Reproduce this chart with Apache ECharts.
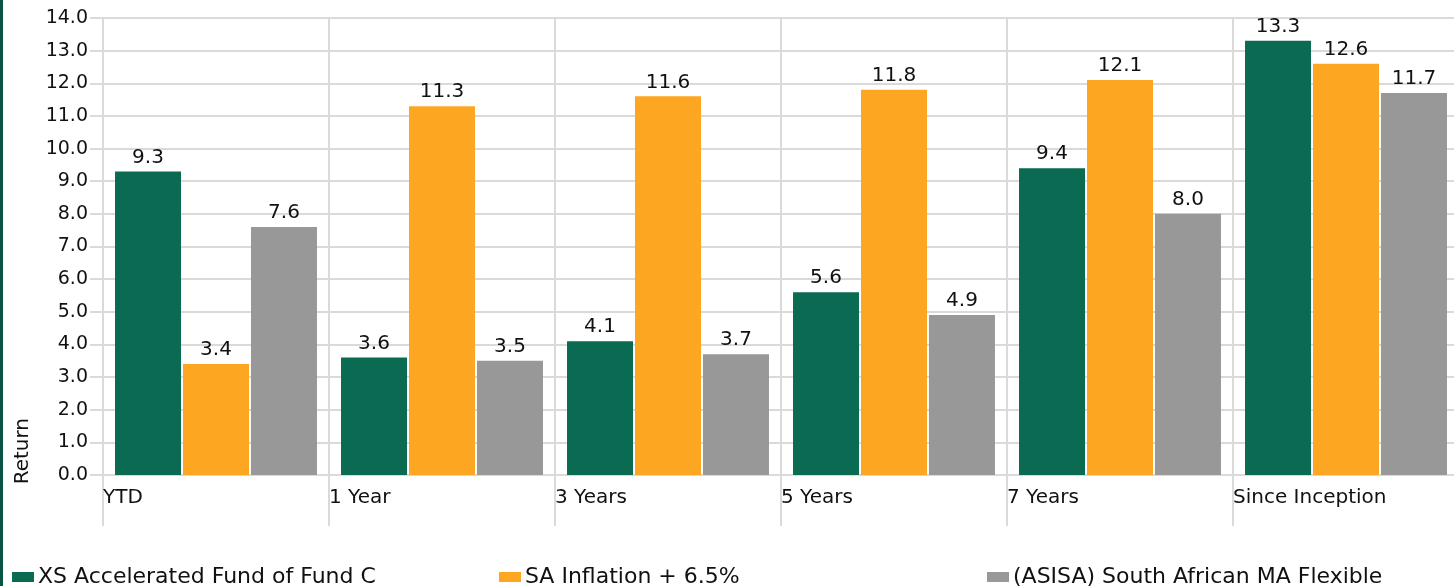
<!DOCTYPE html>
<html>
<head>
<meta charset="utf-8">
<script src="https://cdn.jsdelivr.net/npm/echarts@6/dist/echarts.min.js"></script>
<style>
  html, body { margin: 0; padding: 0; background: #fff; }
  #chart { width: 1454px; height: 586px; }
</style>
</head>
<body>
<div id="chart"></div>
<script>
// data
var categories = ['YTD', '1 Year', '3 Years', '5 Years', '7 Years', 'Since Inception'];
var fundName = 'XS Accelerated Fund of Fund C';
var inflationName = 'SA Inflation + 6.5%';
var peerName = '(ASISA) South African MA Flexible';
var fundValues = [9.3, 3.6, 4.1, 5.6, 9.4, 13.3];
var inflationValues = [3.4, 11.3, 11.6, 11.8, 12.1, 12.6];
var peerValues = [7.6, 3.5, 3.7, 4.9, 8.0, 11.7];
var yTicks = { min: 0, max: 14, interval: 1 };

var font = 'DejaVu Sans, Verdana, sans-serif';
var gridColor = '#dadada';

var chart = echarts.init(document.getElementById('chart'));

function bar(name, data, color) {
    return {
        name: name,
        type: 'bar',
        xAxisIndex: 0,
        data: data,
        barWidth: 66,
        barGap: '3%',
        itemStyle: { color: color },
        label: {
            show: true,
            position: 'top',
            distance: 4,
            color: '#111',
            fontFamily: font,
            fontSize: 20,
            formatter: function (p) { return p.value.toFixed(1); }
        }
    };
}

function legendAt(left, name) {
    return {
        left: left,
        top: 566,
        data: [name],
        icon: 'rect',
        itemWidth: 22,
        itemHeight: 10,
        itemGap: 0,
        padding: 0,
        textStyle: { fontFamily: font, fontSize: 22, color: '#111', padding: [0, 0, 0, -1] },
        selectedMode: false
    };
}

var option = {
    animation: false,
    backgroundColor: '#fff',
    grid: { left: 103, top: 18, width: 1356, bottom: 111, outerBoundsMode: 'none' },
    legend: [
        legendAt(12, fundName),
        legendAt(499, inflationName),
        legendAt(987, peerName)
    ],
    xAxis: [
        {
            type: 'category',
            data: categories,
            position: 'bottom',
            axisLine: { show: false },
            axisTick: { show: false },
            axisLabel: { show: false },
            splitLine: { show: false }
        },
        {
            // boundary axis: labels start at each category's left edge
            type: 'value',
            min: 0,
            max: categories.length,
            interval: 1,
            position: 'bottom',
            axisLine: { show: false },
            axisTick: { show: true, length: 51, lineStyle: { color: gridColor, width: 2 } },
            splitLine: { show: true, lineStyle: { color: gridColor, width: 2 } },
            axisLabel: {
                align: 'left',
                margin: 13,
                color: '#111',
                fontFamily: font,
                fontSize: 20,
                formatter: function (v) { return categories[v] || ''; }
            }
        }
    ],
    yAxis: {
        type: 'value',
        min: yTicks.min,
        max: yTicks.max,
        interval: yTicks.interval,
        axisLine: { show: false },
        axisTick: { show: true, length: 13, lineStyle: { color: gridColor, width: 2 } },
        splitLine: { show: true, lineStyle: { color: gridColor, width: 2 } },
        axisLabel: {
            margin: 15,
            color: '#111',
            fontFamily: font,
            fontSize: 19,
            formatter: function (v) { return v.toFixed(1); }
        }
    },
    graphic: [
        { type: 'rect', left: 0, top: 0, shape: { width: 3, height: 586 }, style: { fill: '#0b5443' } },
        {
            type: 'text',
            left: 13,
            top: 418,
            rotation: Math.PI / 2,
            style: { text: 'Return', font: '20px ' + font, fill: '#111' }
        }
    ],
    series: [
        bar(fundName, fundValues, '#0a6a52'),
        bar(inflationName, inflationValues, '#fca622'),
        bar(peerName, peerValues, '#989898')
    ]
};

chart.setOption(option);
</script>
</body>
</html>
